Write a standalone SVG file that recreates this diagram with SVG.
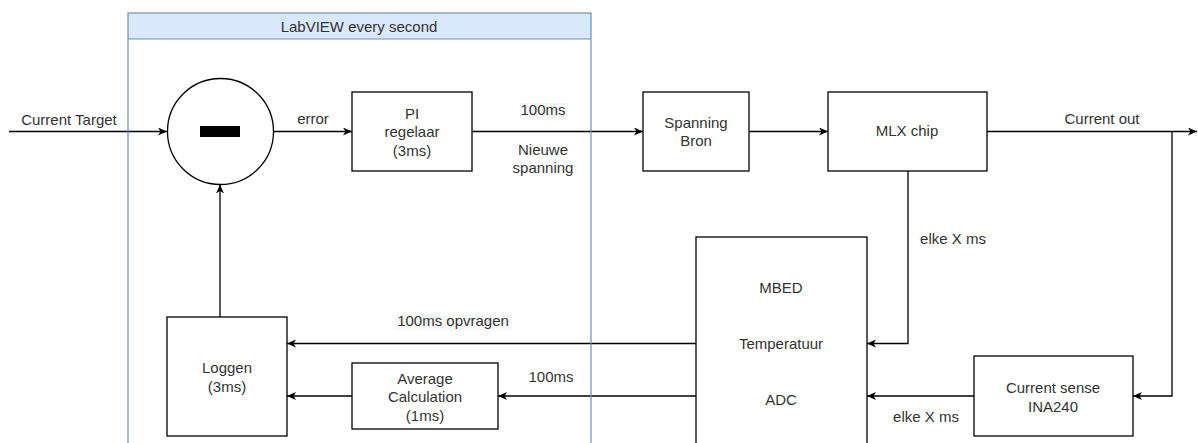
<svg xmlns="http://www.w3.org/2000/svg" width="1198" height="443" viewBox="0 0 1198 443">
<style>
text{font-family:"Liberation Sans",Arial,sans-serif;font-size:15px;fill:#333;text-anchor:middle}
.box{fill:#fff;stroke:#000;stroke-width:1.3}
.edge{fill:none;stroke:#000;stroke-width:1.3}
.arr{marker-end:url(#ah)}
.lbg{fill:#f6f7f8}
</style>
<defs>
<marker id="ah" markerUnits="userSpaceOnUse" markerWidth="10" markerHeight="9" refX="9" refY="4" orient="auto">
<path d="M0,0 L9,4 L0,8 L2.5,4 Z" fill="#000"/>
</marker>
</defs>
<rect width="1198" height="443" fill="#fff"/>
<g id="container">
<rect x="128" y="13" width="463" height="26" fill="#dae8fc"/>
<text x="359" y="32">LabVIEW every second</text>
</g>
<g id="connectors">
<path class="edge arr" d="M9,131.5 L167,131.5"/>
<path class="edge arr" d="M274,131.5 L352,131.5"/>
<path class="edge arr" d="M472,131.5 L643,131.5"/>
<path class="edge arr" d="M749,131.5 L828,131.5"/>
<path class="edge arr" d="M987,131.5 L1197,131.5"/>
<path class="edge arr" d="M1172,131.5 L1172,396 L1133,396"/>
<path class="edge arr" d="M908,171 L908,343.5 L867,343.5"/>
<path class="edge arr" d="M974,396 L867,396"/>
<path class="edge arr" d="M696,343.5 L287,343.5"/>
<path class="edge arr" d="M696,396 L498,396"/>
<path class="edge arr" d="M352,396 L287,396"/>
<path class="edge arr" d="M220,317 L220,184.5"/>
<rect class="lbg" x="520" y="103" width="48" height="16"/>
<text x="543" y="115">100ms</text>
<text x="543" y="155">Nieuwe</text>
<text x="543" y="173">spanning</text>
<text x="69" y="125">Current Target</text>
<text x="313" y="124">error</text>
<text x="1102" y="124">Current out</text>
<text x="953" y="244">elke X ms</text>
<text x="926" y="422">elke X ms</text>
<rect class="lbg" x="395" y="315" width="117" height="15"/>
<text x="453" y="326">100ms opvragen</text>
<text x="551" y="382">100ms</text>
</g>
<g id="sum">
<circle class="box" cx="220.5" cy="131.5" r="53"/>
<rect x="200" y="126" width="40" height="11" fill="#000"/>
</g>
<g id="pi">
<rect class="box" x="352" y="92" width="120" height="79"/>
<text x="412" y="118.5">PI</text>
<text x="412" y="137">regelaar</text>
<text x="412" y="155.5">(3ms)</text>
</g>
<g id="spanning">
<rect class="box" x="643" y="92" width="106" height="79"/>
<text x="696" y="128">Spanning</text>
<text x="696" y="146">Bron</text>
</g>
<g id="mlx">
<rect class="box" x="828" y="92" width="159" height="79"/>
<text x="907" y="136">MLX chip</text>
</g>
<g id="mbed">
<rect class="box" x="696" y="237" width="171" height="220"/>
<text x="781" y="293">MBED</text>
<text x="781" y="349">Temperatuur</text>
<text x="781" y="405">ADC</text>
</g>
<g id="currentsense">
<rect class="box" x="974" y="356" width="159" height="80"/>
<text x="1053" y="393">Current sense</text>
<text x="1053" y="412">INA240</text>
</g>
<g id="loggen">
<rect class="box" x="167" y="317" width="120" height="119"/>
<text x="227" y="373">Loggen</text>
<text x="227" y="392">(3ms)</text>
</g>
<g id="average">
<rect class="box" x="352" y="363" width="146" height="66"/>
<text x="425" y="384">Average</text>
<text x="425" y="402">Calculation</text>
<text x="425" y="420.5">(1ms)</text>
</g>
<g id="container-border">
<rect x="128" y="13" width="463" height="450" fill="none" stroke="#6c8ebf" stroke-width="1.2"/>
<line x1="128" y1="39" x2="591" y2="39" stroke="#6c8ebf" stroke-width="1.2"/>
</g>
</svg>
